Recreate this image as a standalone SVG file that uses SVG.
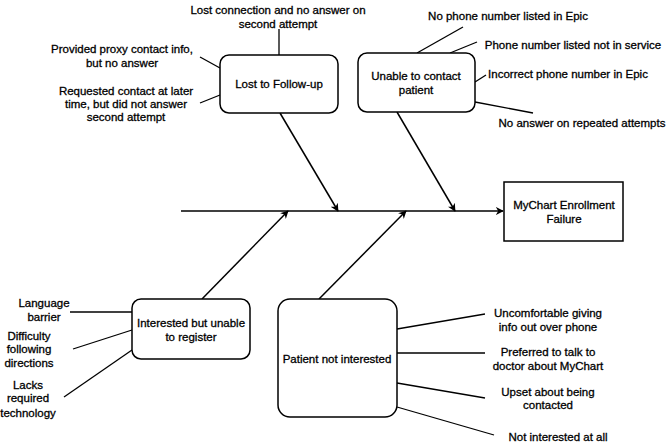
<svg xmlns="http://www.w3.org/2000/svg" width="668" height="443" viewBox="0 0 668 443">
<defs>
<marker id="ah" viewBox="0 0 10 10" refX="9" refY="5" markerWidth="8" markerHeight="8" orient="auto" markerUnits="userSpaceOnUse">
<path d="M0,0 L10,5 L0,10 L3,5 z" fill="#000"/>
</marker>
<style>
text{font-family:"Liberation Sans",Arial,sans-serif;font-size:11.5px;fill:#000;stroke:#000;stroke-width:0.3;text-anchor:middle}
.box{fill:#fff;stroke:#000;stroke-width:1.5}
.ln{stroke:#000;stroke-width:1.3;fill:none}
.arr{stroke:#000;stroke-width:1.5;fill:none;marker-end:url(#ah)}
</style>
</defs>
<rect width="668" height="443" fill="#fff"/>
<g id="connectors">
<line class="arr" x1="181" y1="211" x2="503" y2="211"/>
<line class="arr" x1="280" y1="113" x2="338" y2="211"/>
<line class="arr" x1="397" y1="112" x2="455" y2="211"/>
<line class="arr" x1="202" y1="299" x2="288" y2="211"/>
<line class="arr" x1="319" y1="299" x2="406" y2="211"/>
<line class="ln" x1="279" y1="29" x2="279" y2="55"/>
<line class="ln" x1="200" y1="57" x2="220" y2="68"/>
<line class="ln" x1="200" y1="103" x2="220" y2="95"/>
<line class="ln" x1="463" y1="27" x2="417" y2="53"/>
<line class="ln" x1="477" y1="42" x2="450" y2="53"/>
<line class="ln" x1="486" y1="75" x2="475" y2="82"/>
<line class="ln" x1="475" y1="102" x2="533" y2="113"/>
<line class="ln" x1="70" y1="312" x2="132" y2="312"/>
<line class="ln" x1="73" y1="349" x2="132" y2="330"/>
<line class="ln" x1="64" y1="397" x2="132" y2="350"/>
<line class="ln" x1="397" y1="329" x2="485" y2="314"/>
<line class="ln" x1="397" y1="353" x2="485" y2="353"/>
<line class="ln" x1="397" y1="383" x2="485" y2="398"/>
<line class="ln" x1="397" y1="407" x2="494" y2="435"/>
</g>
<g id="lost">
<rect class="box" x="220" y="55" width="118" height="58" rx="9"/>
<text x="279" y="88">Lost to Follow-up</text>
</g>
<g id="lost-causes">
<text x="278" y="13.5">Lost connection and no answer on</text>
<text x="278" y="27.5">second attempt</text>
<text x="122" y="53">Provided proxy contact info,</text>
<text x="122" y="67">but no answer</text>
<text x="126" y="95">Requested contact at later</text>
<text x="126" y="108">time, but did not answer</text>
<text x="126" y="121">second attempt</text>
</g>
<g id="unable">
<rect class="box" x="358" y="53" width="117" height="59" rx="9"/>
<text x="416" y="80">Unable to contact</text>
<text x="416" y="94">patient</text>
</g>
<g id="unable-causes">
<text x="508" y="20">No phone number listed in Epic</text>
<text x="573" y="49">Phone number listed not in service</text>
<text x="568" y="78">Incorrect phone number in Epic</text>
<text x="582" y="127">No answer on repeated attempts</text>
</g>
<g id="effect">
<rect x="504" y="182" width="119" height="59" fill="#fff" stroke="#000" stroke-width="1.5"/>
<text x="564" y="209">MyChart Enrollment</text>
<text x="564" y="223">Failure</text>
</g>
<g id="interested">
<rect class="box" x="132" y="299" width="118" height="60" rx="9"/>
<text x="191" y="327">Interested but unable</text>
<text x="191" y="341">to register</text>
</g>
<g id="interested-causes">
<text x="44" y="307">Language</text>
<text x="44" y="321">barrier</text>
<text x="29" y="340">Difficulty</text>
<text x="29" y="353">following</text>
<text x="29" y="367">directions</text>
<text x="28" y="389">Lacks</text>
<text x="28" y="402">required</text>
<text x="28" y="417">technology</text>
</g>
<g id="notinterested">
<rect class="box" x="278" y="299" width="119" height="118" rx="12"/>
<text x="337" y="363">Patient not interested</text>
</g>
<g id="notinterested-causes">
<text x="548" y="317">Uncomfortable giving</text>
<text x="548" y="331">info out over phone</text>
<text x="548" y="356">Preferred to talk to</text>
<text x="548" y="370">doctor about MyChart</text>
<text x="548" y="396">Upset about being</text>
<text x="548" y="409">contacted</text>
<text x="558" y="441">Not interested at all</text>
</g>
</svg>
